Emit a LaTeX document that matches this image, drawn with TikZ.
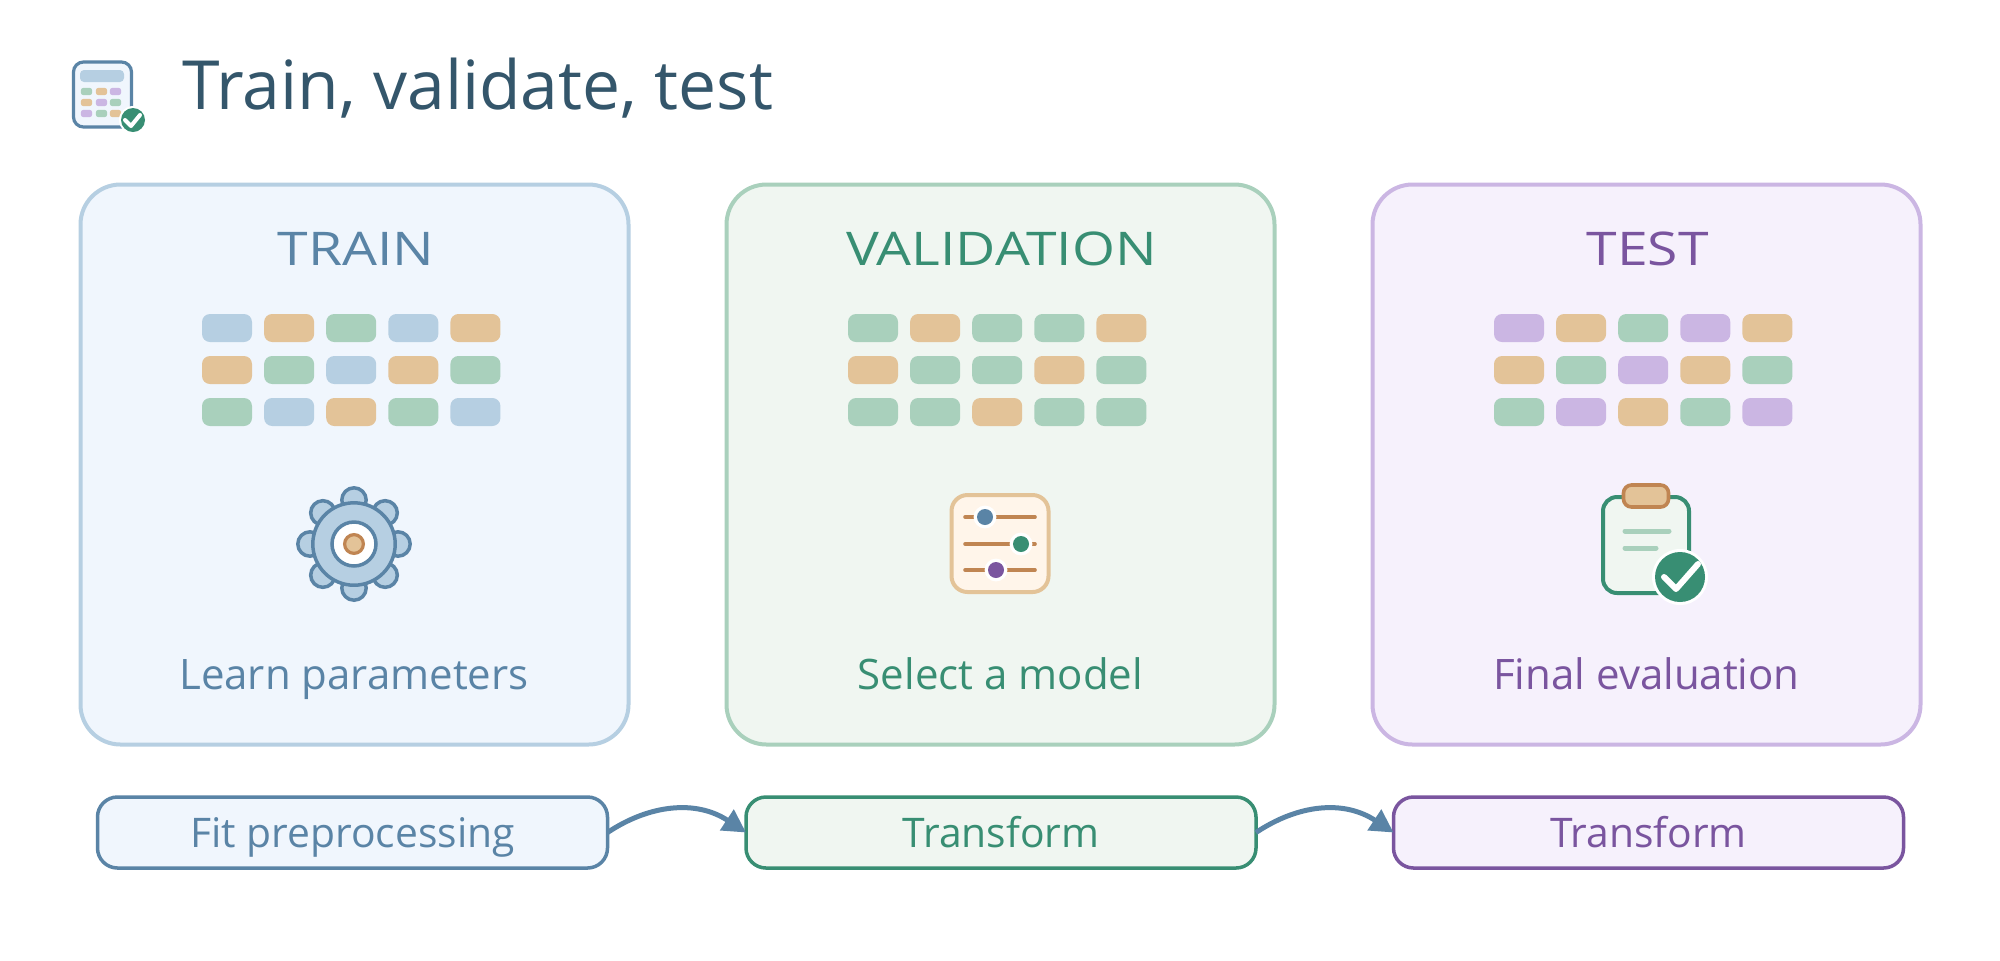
\documentclass[tikz,border=0pt]{standalone}
\usepackage{graphicx}
\usepackage{fontspec}
\setmainfont{Open Sans}
\usetikzlibrary{arrows.meta}
\definecolor{blueS}{HTML}{5A84A6}
\definecolor{blueL}{HTML}{B6CFE2}
\definecolor{blueB}{HTML}{F0F6FD}
\definecolor{greenS}{HTML}{388E73}
\definecolor{greenL}{HTML}{A9D0BC}
\definecolor{greenB}{HTML}{F0F6F1}
\definecolor{purpS}{HTML}{7A559F}
\definecolor{purpL}{HTML}{CBB6E3}
\definecolor{purpB}{HTML}{F6F1FC}
\definecolor{oranS}{HTML}{C08552}
\definecolor{oranL}{HTML}{E3C398}
\definecolor{cream}{HTML}{FFF5EA}
\definecolor{titleC}{HTML}{34566B}
\newcommand{\pxfont}[1]{\fontsize{#1}{#1}\selectfont}
\newcommand{\widen}[1]{\scalebox{1.19}[1]{#1}}
\tikzset{
  x=0.5pt,y=-0.5pt,
  card/.style={draw=#1,line width=2pt,rounded corners=20pt,inner sep=0pt,minimum width=274pt,minimum height=280pt},
  flowbox/.style={line width=1.75pt,rounded corners=10pt,inner sep=0pt,outer sep=0pt,minimum width=255pt,minimum height=35.5pt,font=\pxfont{20.4},text height=19.5pt,text depth=5pt},
  cardhead/.style={font=\pxfont{23.2},inner sep=0pt,anchor=base},
  cardfoot/.style={font=\pxfont{21},inner sep=0pt,anchor=base},
  cell/.style={fill=#1,rounded corners=4pt,inner sep=0pt,minimum width=25pt,minimum height=14pt},
  mini/.style={fill=#1,rounded corners=1.2pt,inner sep=0pt,minimum width=5.6pt,minimum height=3.6pt},
  flowarrow/.style={draw=blueS,line width=2.5pt,-{Triangle[length=11.5pt,width=12pt]}},
}
\begin{document}
\begin{tikzpicture}
\useasboundingbox (0,0) rectangle (2000,960);
\fill[white] (0,0) rectangle (2000,960);
% title
\node[anchor=base west,inner sep=0pt,font=\pxfont{33.9},text=titleC] (title) at (182,109) {Train, validate, test};
% calculator icon
\node[draw=blueS,fill=blueB,line width=1.6pt,rounded corners=5pt,inner sep=0pt,minimum width=29pt,minimum height=32.5pt] (calc) at (102.5,94.5) {};
\node[fill=blueL,rounded corners=2pt,inner sep=0pt,minimum width=22pt,minimum height=6pt] (calcscreen) at (102,76) {};
\foreach \x/\y/\c [count=\i] in {86.5/91.5/greenL,101.5/91.5/oranL,115.5/91.5/purpL,86.5/102.5/oranL,101.5/102.5/purpL,115.5/102.5/greenL,86.5/113.5/purpL,101.5/113.5/greenL,115.5/113.5/oranL}
  \node[mini=\c] (m\i) at (\x,\y) {};
\fill[white] (133,120) circle (7pt);
\fill[greenS] (133,120) circle (6pt);
\draw[white,line width=2pt,line cap=round,line join=round] (125,120)--(131,126)--(140,115);
% cards
\node[card=blueL,fill=blueB] (trainc) at (354.5,464.5) {};
\node[card=greenL,fill=greenB] (valc) at (1000.5,464.5) {};
\node[card=purpL,fill=purpB] (testc) at (1646.5,464.5) {};
\node[cardhead,text=blueS] (trainh) at (356,265) {\widen{TRAIN}};
\node[cardhead,text=greenS] (valh) at (1001.5,265) {\widen{VALIDATION}};
\node[cardhead,text=purpS] (testh) at (1647.5,265) {\widen{TEST}};
\node[cardfoot,text=blueS] (trainf) at (354,689) {Learn parameters};
\node[cardfoot,text=greenS] (valf) at (1000.5,689) {Select a model};
\node[cardfoot,text=purpS] (testf) at (1646.5,689) {Final evaluation};
% cells
\foreach \cx/\k/\lst in {
  227/T/{blueL,oranL,greenL,blueL,oranL,oranL,greenL,blueL,oranL,greenL,greenL,blueL,oranL,greenL,blueL},
  873/V/{greenL,oranL,greenL,greenL,oranL,oranL,greenL,greenL,oranL,greenL,greenL,greenL,oranL,greenL,greenL},
  1519/E/{purpL,oranL,greenL,purpL,oranL,oranL,greenL,purpL,oranL,greenL,greenL,purpL,oranL,greenL,purpL}}{
  \foreach \c [count=\i from 0] in \lst {
    \pgfmathtruncatemacro{\col}{mod(\i,5)}
    \pgfmathtruncatemacro{\row}{int(\i/5)}
    \node[cell=\c] (\k\i) at ({\cx+62.1*\col},{328+42*\row}) {};
  }
}
% gear
\foreach \a in {0,45,...,315}
  \draw[blueS,fill=blueL,line width=1.75pt] ({354+44*cos(\a)},{544+44*sin(\a)}) circle (6.1pt);
\draw[blueS,fill=blueL,line width=1.75pt] (354,544) circle (20.6pt);
\draw[blueS,fill=white,line width=1.75pt] (354,544) circle (11pt);
\draw[oranS,fill=oranL,line width=1.6pt] (354,544) circle (4.7pt);
% sliders
\node[draw=oranL,fill=cream,line width=2pt,rounded corners=8pt,inner sep=0pt,minimum width=48.5pt,minimum height=48.5pt] (slbox) at (1000,543.5) {};
\foreach \y/\k/\c in {517/985/blueS,544/1021/greenS,570/996/purpS}{
  \draw[oranS,line width=1.8pt,line cap=round] (965,\y)--(1035,\y);
  \fill[white] (\k,\y) circle (5.7pt);
  \fill[\c] (\k,\y) circle (4pt);
}
% clipboard
\node[draw=greenS,fill=greenB,line width=2pt,rounded corners=7pt,inner sep=0pt,minimum width=43pt,minimum height=48pt] (clipb) at (1646,545) {};
\node[draw=oranS,fill=oranL,line width=1.8pt,rounded corners=4pt,inner sep=0pt,minimum width=22.5pt,minimum height=11pt] (clip) at (1646,496) {};
\draw[greenL,line width=2.5pt,line cap=round] (1625,531)--(1669,531);
\draw[greenL,line width=2.5pt,line cap=round] (1625,548)--(1656,548);
\fill[white] (1680,577) circle (14pt);
\fill[greenS] (1680,577) circle (12.5pt);
\draw[white,line width=3pt,line cap=round,line join=round] (1664,577)--(1676,589)--(1698,564);
% flow
\node[flowbox,draw=blueS,fill=blueB,text=blueS] (f1) at (352.5,832.5) {Fit preprocessing};
\node[flowbox,draw=greenS,fill=greenB,text=greenS] (f2) at (1001,832.5) {Transform};
\node[flowbox,draw=purpS,fill=purpB,text=purpS] (f3) at (1648.5,832.5) {Transform};
\draw[flowarrow] (f1.east) .. controls +(42,-28) and +(-50,-33) .. (f2.west);
\draw[flowarrow] (f2.east) .. controls +(42,-28) and +(-50,-33) .. (f3.west);
\end{tikzpicture}
\end{document}
